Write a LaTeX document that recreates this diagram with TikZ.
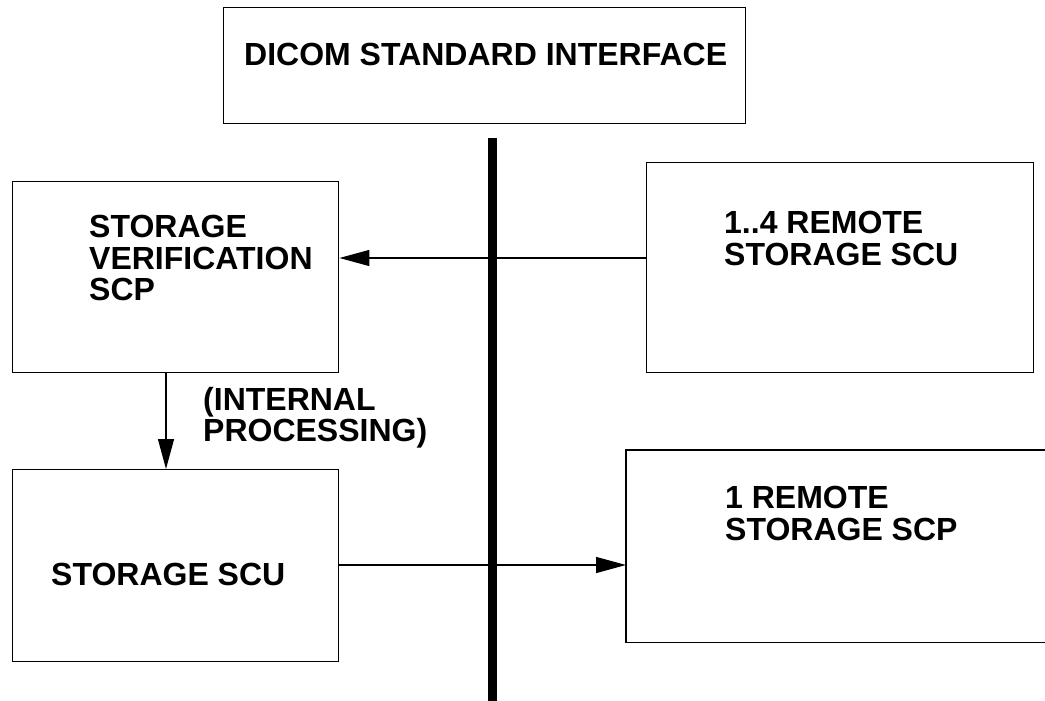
\documentclass[tikz,border=0pt]{standalone}
\usepackage{fontspec}
\setmainfont{Liberation Sans}
\usetikzlibrary{arrows.meta}
\tikzset{
  box/.style={draw, line width=1.4pt, inner sep=0pt, anchor=north west},
  openbox/.style={inner sep=0pt, anchor=north west},
  lbl/.style={anchor=north west, inner sep=0pt, align=left,
    font=\bfseries\fontsize{32}{31.5}\selectfont},
  arr/.style={line width=1.3pt, -{Triangle[length=30pt,width=16pt]}},
  bus/.style={line width=9pt}
}
\begin{document}
\begin{tikzpicture}[x=1pt,y=-1pt]
\useasboundingbox (0,0) rectangle (1045,701);
% boxes
\node[box, minimum width=522pt, minimum height=116pt] (dicom) at (223,7) {};
\node[anchor=base west, inner sep=0pt, font=\bfseries\fontsize{32}{32}\selectfont]
  (dicomlbl) at (244,66) {DICOM STANDARD INTERFACE};
\node[box, minimum width=326pt, minimum height=191pt] (sv) at (12,181) {};
\node[lbl] (svlbl) at (89,215) {STORAGE\\VERIFICATION\\SCP};
\node[box, minimum width=387pt, minimum height=210pt] (rscu) at (646,162) {};
\node[lbl] (rsculbl) at (724,211) {1..4 REMOTE\\STORAGE SCU};
\node[box, minimum width=326pt, minimum height=192pt] (scu) at (12,469) {};
\node[lbl] (sculbl) at (51,563) {STORAGE SCU};
\node[openbox, minimum width=419pt, minimum height=192pt] (rscp) at (626,450) {};
\draw[line width=1.4pt] (rscp.north east) -- (rscp.north west) -- (rscp.south west) -- (rscp.south east);
\node[lbl] (rscplbl) at (725,486) {1 REMOTE\\STORAGE SCP};
\node[lbl] (intlbl) at (203,387) {(INTERNAL\\PROCESSING)};
% bus
\coordinate (bustop) at (492.5,138);
\coordinate (busbot) at (492.5,701);
\draw[bus] (bustop) -- (busbot);
% connectors
\coordinate (y1) at (0,258);
\coordinate (y2) at (0,565);
\coordinate (x1) at (166,0);
\draw[arr] (rscu.west |- y1) -- (sv.east |- y1);
\draw[arr] (x1 |- sv.south) -- (x1 |- scu.north);
\draw[arr] (scu.east |- y2) -- (rscp.west |- y2);
\end{tikzpicture}
\end{document}
